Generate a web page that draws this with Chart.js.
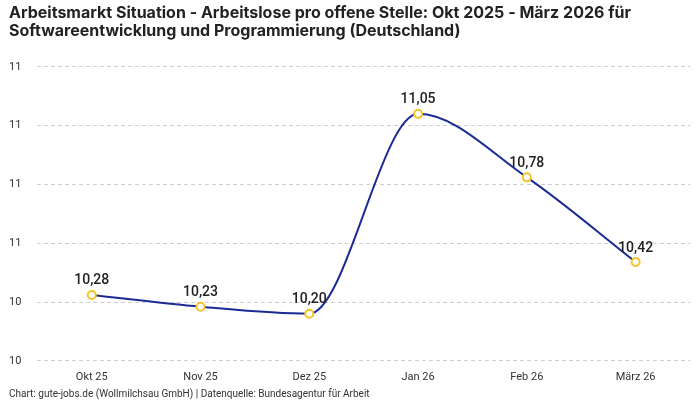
<!DOCTYPE html>
<html>
<head>
<meta charset="utf-8">
<script src="https://cdn.jsdelivr.net/npm/chart.js@4/dist/chart.umd.min.js"></script>
<style>
html,body{margin:0;padding:0;background:#fff;}
#wrap{width:700px;height:400px;}
</style>
</head>
<body>
<div id="wrap"><canvas id="myChart"></canvas></div>
<script>
var months=["Okt 25","Nov 25","Dez 25","Jan 26","Feb 26","März 26"];
var arbeitslose=[10.28,10.23,10.20,11.05,10.78,10.42];
var yMin=10, yMax=11.25, yStep=0.25;

// Werte über den Punkten
var valueLabels={
id:'valueLabels',
afterDatasetsDraw:function(chart){
var ctx=chart.ctx;
var meta=chart.getDatasetMeta(0);
ctx.save();
ctx.font='500 14px Roboto, "Noto Sans", sans-serif';
ctx.fillStyle='#222';
ctx.textAlign='center';
ctx.textBaseline='bottom';
meta.data.forEach(function(pt,i){
ctx.fillText(arbeitslose[i].toFixed(2).replace('.',','),pt.x,pt.y-7);
});
ctx.restore();
}
};

var ctx=document.getElementById("myChart").getContext('2d');
var chart=new Chart(ctx,{
type:'line',
data:{
labels:months,
datasets:[{
label:"Arbeitslose pro offene Stelle",
data:arbeitslose,
borderColor:'#1b2b94',
borderWidth:2,
cubicInterpolationMode:'monotone',
pointRadius:4,
pointBorderWidth:2,
pointBackgroundColor:'#fff',
pointBorderColor:'#f7c325'
}]
},
options:{
responsive:true,
maintainAspectRatio:false,
animation:false,
layout:{padding:{left:9,right:10,top:0,bottom:0}},
plugins:{
legend:{display:false},
title:{
display:true,
align:'start',
text:["Arbeitsmarkt Situation - Arbeitslose pro offene Stelle: Okt 2025 - März 2026 für","Softwareentwicklung und Programmierung (Deutschland)"],
color:'#222',
font:{family:'Inter, Roboto, sans-serif',size:16,weight:'bold',lineHeight:1.15},
padding:{top:4,bottom:26}
},
subtitle:{
display:true,
position:'bottom',
align:'start',
text:"Chart: gute-jobs.de (Wollmilchsau GmbH) | Datenquelle: Bundesagentur für Arbeit",
color:'#333',
font:{family:'Roboto, "Noto Sans", sans-serif',size:10},
padding:{top:2,bottom:0}
},
tooltip:{enabled:false}
},
scales:{
x:{
offset:true,
grid:{display:false},
border:{display:false},
ticks:{color:'#333',font:{family:'Roboto, "Noto Sans", sans-serif',size:11},padding:2}
},
y:{
min:yMin,
max:yMax,
grid:{color:'#cfcfcf',drawTicks:false},
border:{display:false,dash:[4,3]},
ticks:{
stepSize:yStep,
color:'#333',
crossAlign:'far',
padding:8,
font:{family:'Roboto, "Noto Sans", sans-serif',size:11},
callback:function(v){return v.toFixed(0);}
}
}
}
},
plugins:[valueLabels]
});
</script>
</body>
</html>
